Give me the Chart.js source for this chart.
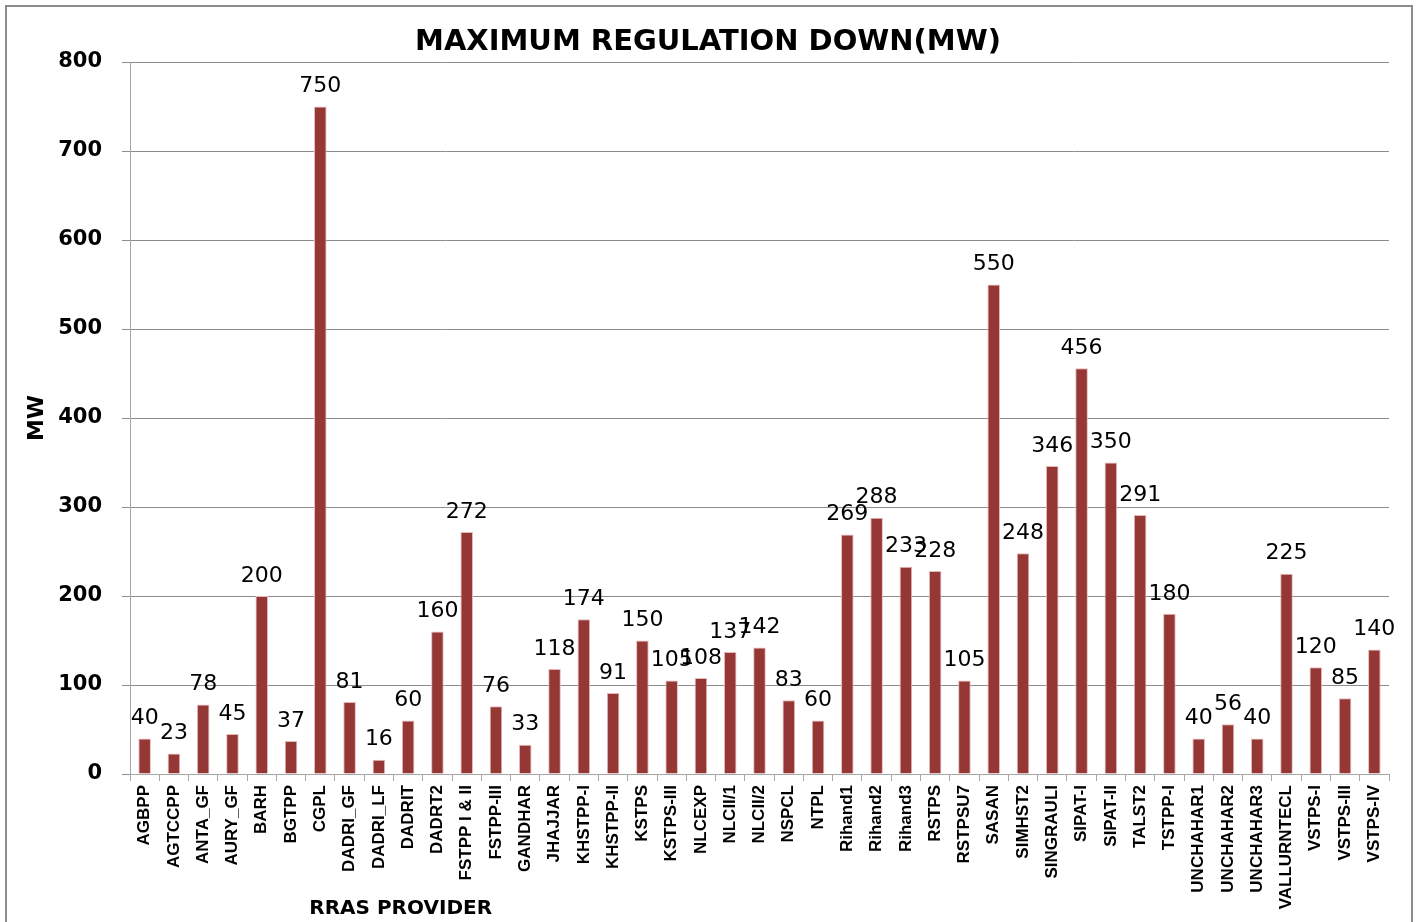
<!DOCTYPE html>
<html>
<head>
<meta charset="utf-8">
<script src="https://cdn.jsdelivr.net/npm/chart.js@4.4.1/dist/chart.umd.min.js"></script>
<style>
  html, body { margin: 0; padding: 0; background: #fff; overflow: hidden; }
  #wrap { position: absolute; left: 0; top: 0; width: 1416px; height: 922px; }
  #frame { position: absolute; left: 5px; top: 5px; width: 1404px; height: 940px; border: 2px solid #8c8c8c; pointer-events: none; }
</style>
</head>
<body>
<div id="wrap"><canvas id="c" width="1416" height="922"></canvas></div>
<div id="frame"></div>
<script>
const categories = ["AGBPP","AGTCCPP","ANTA_GF","AURY_GF","BARH","BGTPP","CGPL","DADRI_GF","DADRI_LF","DADRIT","DADRT2","FSTPP I & II","FSTPP-III","GANDHAR","JHAJJAR","KHSTPP-I","KHSTPP-II","KSTPS","KSTPS-III","NLCEXP","NLCII/1","NLCII/2","NSPCL","NTPL","Rihand1","Rihand2","Rihand3","RSTPS","RSTPSU7","SASAN","SIMHST2","SINGRAULI","SIPAT-I","SIPAT-II","TALST2","TSTPP-I","UNCHAHAR1","UNCHAHAR2","UNCHAHAR3","VALLURNTECL","VSTPS-I","VSTPS-III","VSTPS-IV"];
const maxRegulationDown = [40,23,78,45,200,37,750,81,16,60,160,272,76,33,118,174,91,150,105,108,137,142,83,60,269,288,233,228,105,550,248,346,456,350,291,180,40,56,40,225,120,85,140];
const yTicks = [0,100,200,300,400,500,600,700,800];
const chartTitle = "MAXIMUM REGULATION DOWN(MW)";
const xTitle = "RRAS PROVIDER";
const yTitle = "MW";

const extras = {
  id: 'extras',
  afterDatasetsDraw(chart) {
    const ctx = chart.ctx;
    const meta = chart.getDatasetMeta(0);
    ctx.save();
    ctx.fillStyle = '#000';
    ctx.font = '22px "DejaVu Sans"';
    ctx.textAlign = 'center';
    ctx.textBaseline = 'bottom';
    meta.data.forEach((bar, i) => {
      ctx.fillText(String(maxRegulationDown[i]), bar.x, bar.y - 9);
    });
    ctx.restore();
  },
  afterDraw(chart) {
    const ctx = chart.ctx;
    const a = chart.chartArea;
    ctx.save();
    ctx.fillStyle = '#000';
    ctx.textAlign = 'center';
    ctx.textBaseline = 'middle';
    ctx.font = 'bold 29px "DejaVu Sans"';
    ctx.fillText(chartTitle, 708, 42);
    ctx.font = 'bold 20px "DejaVu Sans"';
    ctx.fillText(xTitle, a.left + (a.right - a.left) * 0.215, 909);
    ctx.translate(37, (a.top + a.bottom) / 2);
    ctx.rotate(-Math.PI / 2);
    ctx.font = 'bold 22px "DejaVu Sans"';
    ctx.fillText(yTitle, 0, 0);
    ctx.restore();
  }
};

new Chart(document.getElementById('c'), {
  type: 'bar',
  data: {
    labels: categories,
    datasets: [{
      data: maxRegulationDown,
      backgroundColor: '#953735',
      borderColor: '#e6b9b8',
      borderWidth: 1,
      barPercentage: 0.43,
      categoryPercentage: 1.0
    }]
  },
  options: {
    responsive: false,
    animation: false,
    events: [],
    layout: { padding: { top: 62, right: 27, left: 0, bottom: 0 } },
    plugins: { legend: { display: false }, title: { display: false }, tooltip: { enabled: false } },
    scales: {
      x: {
        afterFit(scale) { scale.height = 148; },
        grid: { display: true, drawOnChartArea: false, offset: true, color: '#a6a6a6', tickLength: 7 },
        border: { display: true, color: '#a6a6a6', width: 1 },
        ticks: {
          autoSkip: false, maxRotation: 90, minRotation: 90, padding: 4,
          color: '#000', font: { family: '"Liberation Sans Narrow", "Liberation Sans", Arial', weight: 'bold', size: 17 }
        }
      },
      y: {
        min: 0, max: 800,
        afterFit(scale) { scale.width = 130; },
        afterBuildTicks(scale) { scale.ticks = yTicks.map(v => ({ value: v })); },
        grid: { color: '#8c8c8c', tickLength: 8, lineWidth: 1 },
        border: { display: true, color: '#a6a6a6' },
        ticks: {
          padding: 20, color: '#000',
          font: { family: '"DejaVu Sans"', weight: 'bold', size: 21 }
        }
      }
    }
  },
  plugins: [extras]
});
</script>
</body>
</html>
